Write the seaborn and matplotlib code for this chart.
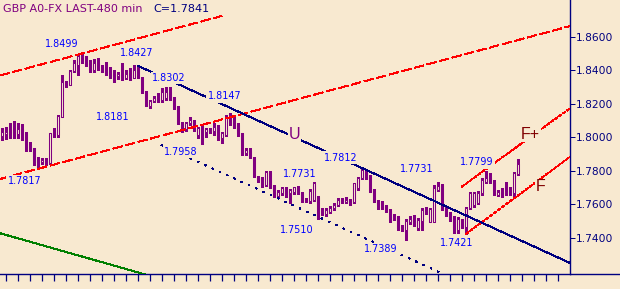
import matplotlib
matplotlib.use("Agg")
import matplotlib.pyplot as plt
from matplotlib.lines import Line2D
from matplotlib.ticker import FormatStrFormatter
import numpy as np
import pandas as pd
import seaborn as sns

# ---------------- data ----------------
opens = [
    1.8009, 1.8019, 1.8043, 1.8052, 1.8019, 1.8049, 1.8023, 1.7960, 1.7934, 1.7864,
    1.7854, 1.7864, 1.7845, 1.8023, 1.8013, 1.8122, 1.8327, 1.8311, 1.8395, 1.8431,
    1.8478, 1.8484, 1.8441, 1.8401, 1.8444, 1.8420, 1.8411, 1.8395, 1.8375, 1.8365,
    1.8375, 1.8355, 1.8381, 1.8355, 1.8411, 1.8355, 1.8271, 1.8188, 1.8216, 1.8236,
    1.8222, 1.8236, 1.8271, 1.8236, 1.8182, 1.8083, 1.8049, 1.8083, 1.8093, 1.8013,
    1.8061, 1.8033, 1.8039, 1.8039, 1.8063, 1.7994, 1.8013, 1.8122, 1.8093, 1.8073,
    1.8023, 1.7904, 1.7924, 1.7874, 1.7761, 1.7755, 1.7715, 1.7793, 1.7709, 1.7650,
    1.7666, 1.7690, 1.7670, 1.7676, 1.7702, 1.7670, 1.7629, 1.7620, 1.7626, 1.7644,
    1.7566, 1.7543, 1.7556, 1.7576, 1.7596, 1.7626, 1.7617, 1.7626, 1.7616, 1.7696,
    1.7755, 1.7795, 1.7765, 1.7686, 1.7616, 1.7616, 1.7590, 1.7566, 1.7517, 1.7526,
    1.7467, 1.7447, 1.7497, 1.7517, 1.7457, 1.7502, 1.7571, 1.7497, 1.7497, 1.7686,
    1.7715, 1.7576, 1.7547, 1.7526, 1.7447, 1.7507, 1.7467, 1.7576, 1.7596, 1.7606,
    1.7666, 1.7735, 1.7765, 1.7735, 1.7656, 1.7676, 1.7670, 1.7686, 1.7666, 1.7781,
]
highs = [
    1.8053, 1.8061, 1.8085, 1.8097, 1.8085, 1.8079, 1.8031, 1.7970, 1.7938, 1.7884,
    1.7876, 1.7875, 1.8025, 1.8053, 1.8133, 1.8371, 1.8335, 1.8401, 1.8460, 1.8499,
    1.8495, 1.8487, 1.8460, 1.8464, 1.8470, 1.8431, 1.8450, 1.8420, 1.8401, 1.8389,
    1.8441, 1.8401, 1.8411, 1.8431, 1.8427, 1.8359, 1.8276, 1.8222, 1.8246, 1.8262,
    1.8291, 1.8301, 1.8302, 1.8240, 1.8186, 1.8093, 1.8091, 1.8122, 1.8103, 1.8063,
    1.8079, 1.8053, 1.8053, 1.8083, 1.8073, 1.8033, 1.8133, 1.8147, 1.8133, 1.8083,
    1.8025, 1.7936, 1.7934, 1.7882, 1.7769, 1.7765, 1.7799, 1.7799, 1.7715, 1.7686,
    1.7702, 1.7702, 1.7692, 1.7705, 1.7709, 1.7676, 1.7638, 1.7692, 1.7731, 1.7650,
    1.7578, 1.7578, 1.7590, 1.7608, 1.7638, 1.7638, 1.7644, 1.7632, 1.7728, 1.7763,
    1.7812, 1.7805, 1.7775, 1.7692, 1.7626, 1.7620, 1.7596, 1.7572, 1.7543, 1.7531,
    1.7477, 1.7512, 1.7531, 1.7537, 1.7519, 1.7576, 1.7584, 1.7578, 1.7715, 1.7731,
    1.7721, 1.7584, 1.7554, 1.7531, 1.7526, 1.7513, 1.7584, 1.7673, 1.7675, 1.7680,
    1.7755, 1.7799, 1.7785, 1.7745, 1.7686, 1.7696, 1.7735, 1.7705, 1.7793, 1.7868,
]
lows = [
    1.7984, 1.7990, 1.7996, 1.7996, 1.7998, 1.7984, 1.7918, 1.7918, 1.7835, 1.7817,
    1.7841, 1.7835, 1.7841, 1.8003, 1.8003, 1.8121, 1.8301, 1.8311, 1.8387, 1.8371,
    1.8442, 1.8425, 1.8391, 1.8391, 1.8401, 1.8389, 1.8371, 1.8355, 1.8331, 1.8347,
    1.8341, 1.8347, 1.8341, 1.8351, 1.8351, 1.8262, 1.8186, 1.8172, 1.8210, 1.8212,
    1.8212, 1.8222, 1.8222, 1.8168, 1.8079, 1.8033, 1.8037, 1.8073, 1.8037, 1.7994,
    1.7958, 1.8000, 1.8023, 1.8013, 1.7984, 1.7964, 1.8007, 1.8073, 1.8053, 1.8007,
    1.7894, 1.7894, 1.7874, 1.7763, 1.7735, 1.7703, 1.7709, 1.7697, 1.7646, 1.7644,
    1.7656, 1.7646, 1.7610, 1.7662, 1.7662, 1.7616, 1.7614, 1.7608, 1.7620, 1.7510,
    1.7537, 1.7531, 1.7549, 1.7566, 1.7590, 1.7608, 1.7608, 1.7596, 1.7608, 1.7686,
    1.7749, 1.7749, 1.7674, 1.7614, 1.7572, 1.7572, 1.7554, 1.7495, 1.7507, 1.7447,
    1.7441, 1.7389, 1.7483, 1.7471, 1.7447, 1.7447, 1.7543, 1.7495, 1.7495, 1.7680,
    1.7566, 1.7531, 1.7501, 1.7429, 1.7429, 1.7459, 1.7421, 1.7572, 1.7586, 1.7602,
    1.7656, 1.7725, 1.7725, 1.7656, 1.7650, 1.7646, 1.7656, 1.7656, 1.7646, 1.7775,
]
closes = [
    1.8029, 1.8034, 1.8025, 1.8013, 1.8049, 1.8019, 1.7958, 1.7930, 1.7854, 1.7852,
    1.7864, 1.7845, 1.8023, 1.8013, 1.8127, 1.8327, 1.8307, 1.8395, 1.8441, 1.8484,
    1.8484, 1.8431, 1.8401, 1.8444, 1.8420, 1.8391, 1.8381, 1.8367, 1.8363, 1.8374,
    1.8355, 1.8375, 1.8361, 1.8401, 1.8355, 1.8268, 1.8188, 1.8216, 1.8236, 1.8224,
    1.8271, 1.8271, 1.8232, 1.8172, 1.8083, 1.8043, 1.8083, 1.8103, 1.8053, 1.8053,
    1.8043, 1.8047, 1.8043, 1.8063, 1.8023, 1.8023, 1.8122, 1.8083, 1.8063, 1.8023,
    1.7904, 1.7924, 1.7880, 1.7769, 1.7745, 1.7715, 1.7793, 1.7703, 1.7656, 1.7676,
    1.7696, 1.7662, 1.7686, 1.7702, 1.7670, 1.7626, 1.7623, 1.7680, 1.7727, 1.7537,
    1.7547, 1.7566, 1.7576, 1.7596, 1.7626, 1.7617, 1.7626, 1.7606, 1.7725, 1.7755,
    1.7805, 1.7755, 1.7676, 1.7616, 1.7596, 1.7576, 1.7562, 1.7507, 1.7526, 1.7457,
    1.7451, 1.7502, 1.7511, 1.7487, 1.7507, 1.7566, 1.7550, 1.7571, 1.7696, 1.7709,
    1.7571, 1.7537, 1.7507, 1.7451, 1.7511, 1.7467, 1.7576, 1.7666, 1.7666, 1.7670,
    1.7745, 1.7755, 1.7735, 1.7676, 1.7674, 1.7662, 1.7676, 1.7666, 1.7785, 1.7841,
]

price_ticks = [1.74, 1.76, 1.78, 1.80, 1.82, 1.84, 1.86]
bar_ticks = list(range(1, 140, 3))

# trend lines: (bar index endpoints, price endpoints)
channel_upper = ([-0.375, 55.1], [1.8368, 1.8723])
channel_mid = ([-0.375, 142.2], [1.7751, 1.8663])
u_line = ([34, 142.2], [1.8427, 1.7250])
u_parallel = ([39.9, 112.0], [1.7954, 1.7168])
green_line = ([-0.375, 37.0], [1.7428, 1.7175])
f_plus = ([115, 142.2], [1.7704, 1.8174])
f_line = ([116, 142.2], [1.7421, 1.7885])

# annotation labels: (text, bar index, price)
value_labels = [
    ("1.8499", 15.0, 1.8556), ("1.8427", 33.9, 1.8502), ("1.8302", 41.9, 1.8353),
    ("1.8147", 55.75, 1.8243), ("1.8181", 27.75, 1.8121), ("1.7958", 44.9, 1.7912),
    ("1.7817", 5.75, 1.7739), ("1.7812", 84.9, 1.7879), ("1.7731", 74.6, 1.7781),
    ("1.7510", 73.9, 1.7450), ("1.7389", 94.9, 1.7334), ("1.7731", 103.9, 1.7811),
    ("1.7421", 113.75, 1.7370), ("1.7799", 118.9, 1.7850),
]
wave_labels = [("U", 73.25, 1.8019, "#800080"), ("F+", 132.25, 1.8019, "#800000"),
               ("F", 134.9, 1.7704, "#800000")]

title_left = "GBP A0-FX LAST-480 min"
title_right = "C=1.7841"

# ---------------- styling ----------------
BG = "#F8E9D0"
PURPLE = "#800080"
NAVY = "#000080"
LW = 0.72  # one pixel
sns.set_style("white", rc={"axes.facecolor": BG, "figure.facecolor": BG})
plt.rcParams["font.family"] = ["DejaVu Sans"]

W, H = 620, 289
fig = plt.figure(figsize=(W / 100, H / 100), dpi=100)
ax = fig.add_axes([0, 15 / H, 570 / W, 274 / H])
ax.set_facecolor(BG)

df = pd.DataFrame({"bar": np.arange(len(opens)), "open": opens, "high": highs,
                   "low": lows, "close": closes})
up = df["close"] >= df["open"]

ax.vlines(df["bar"], df["low"], df["high"], color=PURPLE, lw=0.75, zorder=1,
          antialiased=False)
ax.bar(df["bar"], (df["close"] - df["open"]).abs().clip(lower=0.00005),
       bottom=np.minimum(df["open"], df["close"]), width=0.5,
       color=np.where(up, BG, PURPLE), edgecolor=PURPLE, linewidth=0.75, zorder=2)


def trend(line, color, ls):
    d = pd.DataFrame({"bar": line[0], "price": line[1]})
    sns.lineplot(data=d, x="bar", y="price", ax=ax, color=color, linestyle=ls,
                 linewidth=LW, zorder=3, sort=False, estimator=None,
                 antialiased=False)


trend(channel_upper, "#FF0000", (0, (10, 3)))
trend(channel_mid, "#FF0000", (0, (10, 3)))
trend(f_plus, "#FF0000", (0, (4, 1.7)))
trend(f_line, "#FF0000", (0, (4, 1.7)))
trend(u_line, NAVY, "-")
trend(u_parallel, NAVY, (0, (2, 6)))
trend(green_line, "#008000", "-")

for txt, bx, py in value_labels:
    ax.text(bx, py, txt, color="#0000FF", fontsize=6.9, ha="center", va="center",
            zorder=4, bbox=dict(boxstyle="square,pad=0.15", fc=BG, ec="none"))
for txt, bx, py, col in wave_labels:
    ax.text(bx, py, txt, color=col, fontsize=11.5, ha="center", va="center",
            family="Liberation Sans", zorder=4,
            bbox=dict(boxstyle="square,pad=0.05", fc=BG, ec="none"))

ax.set_xlim(-0.375, 142.125)
ax.set_ylim(1.7185, 1.8818)
ax.set_xlabel("")
ax.set_ylabel("")

ax.yaxis.tick_right()
ax.set_yticks(price_ticks)
ax.yaxis.set_major_formatter(FormatStrFormatter("%.4f"))
ax.tick_params(axis="y", direction="out", length=3.6, width=LW, colors=NAVY,
               labelsize=7.7, pad=0.8, right=True, left=False)
ax.set_xticks(bar_ticks)
ax.tick_params(axis="x", direction="out", length=5, width=0.9, colors=NAVY,
               labelbottom=False, bottom=True)

for s in ["left", "top"]:
    ax.spines[s].set_visible(False)
for s in ["right", "bottom"]:
    ax.spines[s].set_visible(True)
    ax.spines[s].set_color(NAVY)
    ax.spines[s].set_linewidth(1.0)

fig.add_artist(Line2D([570 / W, 1.0], [15 / H, 15 / H], transform=fig.transFigure,
                      color=NAVY, lw=1.0))

fig.text(3 / W, 1 - 9 / H, title_left, color=PURPLE, fontsize=8, va="center",
         ha="left")
fig.text(153 / W, 1 - 9 / H, title_right, color=NAVY, fontsize=8, va="center",
         ha="left")

fig.savefig("out.png", dpi=100, facecolor=BG)
